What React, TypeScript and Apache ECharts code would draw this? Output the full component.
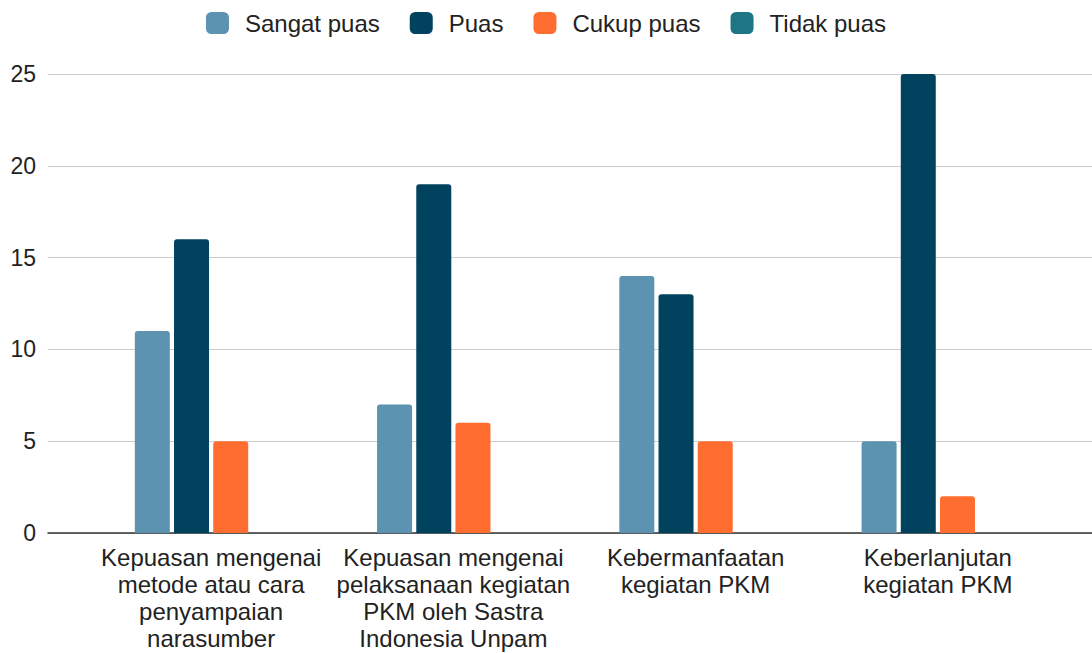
import React, { useEffect, useRef } from "react";
import * as echarts from "echarts";

const categories = [
  "Kepuasan mengenai\nmetode atau cara\npenyampaian\nnarasumber",
  "Kepuasan mengenai\npelaksanaan kegiatan\nPKM oleh Sastra\nIndonesia Unpam",
  "Kebermanfaatan\nkegiatan PKM",
  "Keberlanjutan\nkegiatan PKM",
];
const seriesNames = ["Sangat puas", "Puas", "Cukup puas", "Tidak puas"];
const sangatPuas = [11, 7, 14, 5];
const puas = [16, 19, 13, 25];
const cukupPuas = [5, 6, 5, 2];
const tidakPuas = [0, 0, 0, 0];
const colors = ["#5b93b0", "#01425f", "#ff6d31", "#1e7584"];
const yMin = 0;
const yMax = 25;
const yInterval = 5;

export default function App() {
  const ref = useRef<HTMLDivElement>(null);
  useEffect(() => {
    if (!ref.current) return;
    const chart = echarts.init(ref.current, null, { renderer: "svg" });
    const font = "'Liberation Sans', Arial, sans-serif";
    const values = [sangatPuas, puas, cukupPuas, tidakPuas];
    chart.setOption({
      animation: false,
      textStyle: { fontFamily: font },
      legend: {
        top: 6,
        left: "center",
        itemWidth: 23,
        itemHeight: 22,
        itemGap: 30,
        icon: "roundRect",
        textStyle: {
          fontSize: 24,
          color: "#222",
          fontFamily: font,
          padding: [0, 0, 0, 11],
        },
        data: seriesNames,
      },
      grid: [
        { left: 48, right: 0, top: 74, bottom: 120 },
        { left: 90, right: 33, top: 74, bottom: 120 },
      ],
      xAxis: [
        {
          type: "value",
          gridIndex: 0,
          min: 0,
          max: 1,
          axisLine: { show: true, onZero: false, lineStyle: { color: "#333", width: 1.5 } },
          axisTick: { show: false },
          axisLabel: { show: false },
          splitLine: { show: false },
        },
        {
          type: "category",
          gridIndex: 1,
          data: categories,
          axisLine: { show: false },
          axisTick: { show: false },
          axisLabel: {
            interval: 0,
            margin: 11,
            fontSize: 24,
            lineHeight: 27,
            color: "#222",
            fontFamily: font,
          },
        },
      ],
      yAxis: [
        {
          type: "value",
          gridIndex: 0,
          min: yMin,
          max: yMax,
          interval: yInterval,
          axisLine: { show: false },
          axisTick: { show: false },
          axisLabel: { fontSize: 23, color: "#222", margin: 12, fontFamily: font },
          splitLine: { lineStyle: { color: "#ccc", width: 1 } },
        },
        {
          type: "value",
          gridIndex: 1,
          min: yMin,
          max: yMax,
          interval: yInterval,
          show: false,
          splitLine: { show: false },
        },
      ],
      series: seriesNames.map((name, i) => ({
        name,
        type: "bar",
        xAxisIndex: 1,
        yAxisIndex: 1,
        data: values[i],
        barWidth: 35,
        barGap: "12%",
        itemStyle: { color: colors[i], borderRadius: [3, 3, 0, 0] },
      })),
    });
    return () => chart.dispose();
  }, []);
  return (
    <div
      ref={ref}
      style={{ position: "fixed", left: 0, top: 0, width: 1092, height: 653, background: "#fff" }}
    />
  );
}
